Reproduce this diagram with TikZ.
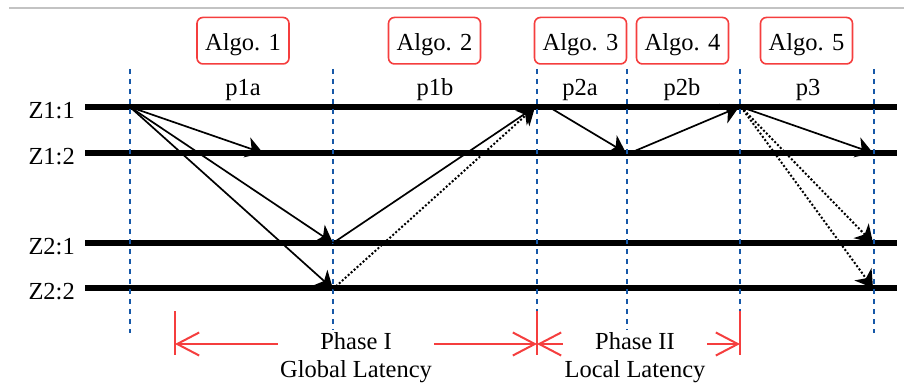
\documentclass[tikz,border=0pt]{standalone}
\usepackage{fontspec}
\setmainfont{Liberation Serif}
\usetikzlibrary{arrows.meta}
\definecolor{boxred}{RGB}{245,62,62}
\definecolor{tickblue}{RGB}{22,88,168}
\definecolor{rulegray}{RGB}{195,195,195}
\begin{document}
\begin{tikzpicture}[x=1pt,y=-1pt,
  every node/.style={font=\fontsize{24.5}{28}\selectfont},
  lane/.style={line width=6.5pt},
  tick/.style={tickblue, line width=2.3pt, dash pattern=on 5pt off 5pt},
  msg/.style={line width=1.7pt, -{Stealth[length=17pt,width=21pt,inset=5pt]}},
  dotmsg/.style={msg, line width=2pt, dash pattern=on 2pt off 2pt},
  algo/.style={draw=boxred, line width=1.6pt, rounded corners=6pt,
    minimum width=92pt, minimum height=46.5pt,
    text height=20.6pt, text depth=0pt, inner sep=0pt},
  phaselabel/.style={fill=white, align=center, inner xsep=2pt, inner ysep=3pt},
  phasebar/.style={boxred, line width=2pt},
  span/.style={boxred, line width=2pt,
    >={Straight Barb[length=22pt,width=23pt]}, <->},
]
\useasboundingbox (0,0) rectangle (904,385);

% thin rule along the top
\draw[rulegray, line width=1.5pt] (9,8) -- (904,8);

% zone lanes
\foreach \y in {107,153,243,288}
  \draw[lane] (85,\y) -- (897,\y);

% lane labels
\node[anchor=base east, inner sep=0pt] (z11) at (75,118) {Z1:1};
\node[anchor=base east, inner sep=0pt] (z12) at (75,164) {Z1:2};
\node[anchor=base east, inner sep=0pt] (z21) at (75,254) {Z2:1};
\node[anchor=base east, inner sep=0pt] (z22) at (75,299) {Z2:2};

% phase boundaries
\foreach \x in {130,333,537,627,740,874}
  \draw[tick] (\x,69) -- (\x,333);

% algorithm boxes
\node[algo] (alg1) at (243,40.7) {Algo. 1};
\node[algo] (alg2) at (434.5,40.7) {Algo. 2};
\node[algo] (alg3) at (580.5,40.7) {Algo. 3};
\node[algo] (alg4) at (682.5,40.7) {Algo. 4};
\node[algo] (alg5) at (806.5,40.7) {Algo. 5};

% sub-phase labels
\node[anchor=base] (p1a) at (243,96) {p1a};
\node[anchor=base] (p1b) at (435,96) {p1b};
\node[anchor=base] (p2a) at (580,96) {p2a};
\node[anchor=base] (p2b) at (682,96) {p2b};
\node[anchor=base] (p3)  at (808,96) {p3};

% message end points
\coordinate (a0)  at (130,107);
\coordinate (c1)  at (263,153);
\coordinate (b21) at (333,243);
\coordinate (b22) at (333,289);
\coordinate (a2)  at (535,107);
\coordinate (a2s) at (549,107);
\coordinate (c3)  at (626,153);
\coordinate (c3s) at (630,153);
\coordinate (a4)  at (739,107);
\coordinate (a4s) at (741,107);
\coordinate (c5)  at (873,153);
\coordinate (d5)  at (873,243);
\coordinate (e5)  at (873,288);

% messages
\draw[msg] (a0) -- (c1);
\draw[msg] (a0) -- (b21);
\draw[msg] (a0) -- (b22);
\draw[msg] (b21) -- (a2);
\draw[dotmsg] (b22) -- (a2);
\draw[msg] (a2s) -- (c3);
\draw[msg] (c3s) -- (a4);
\draw[msg] (a4s) -- (c5);
\draw[dotmsg] (a4s) -- (d5);
\draw[dotmsg] (a4s) -- (e5);

% phase spans
\coordinate (s0) at (175,344);
\coordinate (s1) at (537,344);
\coordinate (s2) at (740,344);
\draw[phasebar] (175,311) -- (175,355);
\draw[phasebar] (537,311) -- (537,355);
\draw[phasebar] (740,311) -- (740,355);
\draw[span] (s0) -- (s1);
\draw[span] (s1) -- (s2);
\node[phaselabel] (ph1) at (356,358) {Phase I\\Global Latency};
\node[phaselabel] (ph2) at (635,358) {Phase II\\Local Latency};
\end{tikzpicture}
\end{document}
